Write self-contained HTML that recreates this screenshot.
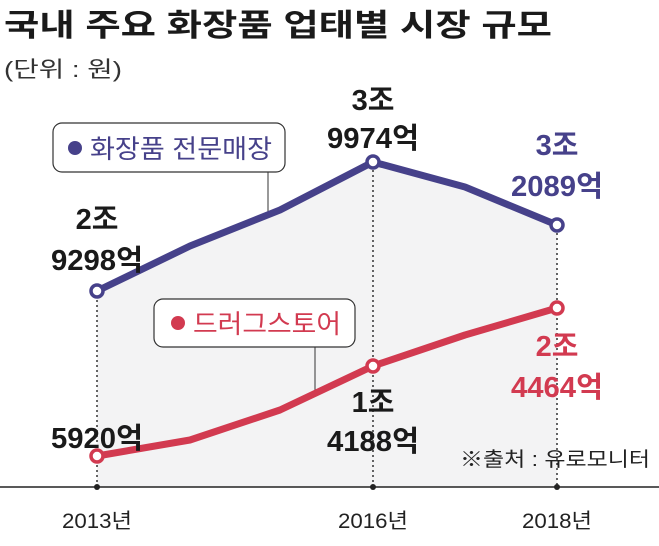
<!DOCTYPE html>
<html><head><meta charset="utf-8"><style>
html,body{margin:0;padding:0;background:#fff;}
svg text{font-family:"Liberation Sans","Noto Sans CJK KR",sans-serif;}
</style></head><body>
<svg width="659" height="541" viewBox="0 0 659 541" xmlns="http://www.w3.org/2000/svg">
<text x="4" y="36" font-size="31" font-weight="bold" fill="#1a1a1a" textLength="548" lengthAdjust="spacingAndGlyphs">국내 주요 화장품 업태별 시장 규모</text>
<text x="4" y="77" font-size="22" fill="#333" textLength="118" lengthAdjust="spacingAndGlyphs">(단위 : 원)</text>
<polygon points="97,291 190,246 280,210 373,162 465,187 557,225 557,487 97,487" fill="#f3f3f4"/>
<line x1="0" y1="487" x2="659" y2="487" stroke="#222" stroke-width="1.5"/>
<g stroke="#333" stroke-width="1.5" stroke-dasharray="2,3">
<line x1="97" y1="300" x2="97" y2="487"/>
<line x1="373" y1="170" x2="373" y2="487"/>
<line x1="557" y1="233" x2="557" y2="487"/>
</g>
<g fill="#222"><circle cx="97" cy="487" r="3"/><circle cx="373" cy="487" r="3"/><circle cx="557" cy="487" r="3"/></g>
<line x1="268" y1="172" x2="268" y2="212" stroke="#333" stroke-width="1"/>
<line x1="315" y1="347" x2="315" y2="390" stroke="#333" stroke-width="1"/>
<polyline points="97,291 190,246 280,210 373,162 465,187 557,225" fill="none" stroke="#46418a" stroke-width="7" stroke-linejoin="round"/>
<polyline points="97,456 190,440 280,410 373,366 465,335 557,308" fill="none" stroke="#d23a50" stroke-width="7" stroke-linejoin="round"/>
<g fill="#fff" stroke-width="3.5" stroke="#46418a">
<circle cx="97" cy="291" r="6"/><circle cx="373" cy="162" r="6"/><circle cx="557" cy="225" r="6"/></g>
<g fill="#fff" stroke-width="3.5" stroke="#d23a50">
<circle cx="97" cy="456" r="6"/><circle cx="373" cy="366" r="6"/><circle cx="557" cy="308" r="6"/></g>
<rect x="53" y="123" width="232" height="49" rx="9" fill="#fff" stroke="#333" stroke-width="1.2"/>
<circle cx="75" cy="148" r="7" fill="#46418a"/>
<text x="90" y="158" font-size="26" fill="#46418a" textLength="182" lengthAdjust="spacingAndGlyphs">화장품 전문매장</text>
<rect x="154" y="299" width="201" height="48" rx="9" fill="#fff" stroke="#333" stroke-width="1.2"/>
<circle cx="178" cy="323" r="7" fill="#d23a50"/>
<text x="193" y="333" font-size="26" fill="#d23a50" textLength="148" lengthAdjust="spacingAndGlyphs">드러그스토어</text>
<g font-size="29" font-weight="bold" text-anchor="middle" fill="#1a1a1a">
<text x="97" y="229">2조</text>
<text x="97" y="270" textLength="92" lengthAdjust="spacingAndGlyphs">9298억</text>
<text x="373" y="110">3조</text>
<text x="373" y="148" textLength="92" lengthAdjust="spacingAndGlyphs">9974억</text>
<text x="97" y="448" textLength="92" lengthAdjust="spacingAndGlyphs">5920억</text>
<text x="373" y="412">1조</text>
<text x="373" y="451" textLength="92" lengthAdjust="spacingAndGlyphs">4188억</text>
<text x="557" y="155" fill="#46418a">3조</text>
<text x="557" y="196" fill="#46418a" textLength="92" lengthAdjust="spacingAndGlyphs">2089억</text>
<text x="557" y="356" fill="#d23a50">2조</text>
<text x="557" y="397" fill="#d23a50" textLength="92" lengthAdjust="spacingAndGlyphs">4464억</text>
</g>
<text x="460" y="466" font-size="20" fill="#222" textLength="190" lengthAdjust="spacingAndGlyphs">※출처 : 유로모니터</text>
<g font-size="21" fill="#222" text-anchor="middle">
<text x="97" y="528" textLength="70" lengthAdjust="spacingAndGlyphs">2013년</text>
<text x="373" y="528" textLength="70" lengthAdjust="spacingAndGlyphs">2016년</text>
<text x="557" y="528" textLength="70" lengthAdjust="spacingAndGlyphs">2018년</text>
</g>
</svg>
</body></html>
